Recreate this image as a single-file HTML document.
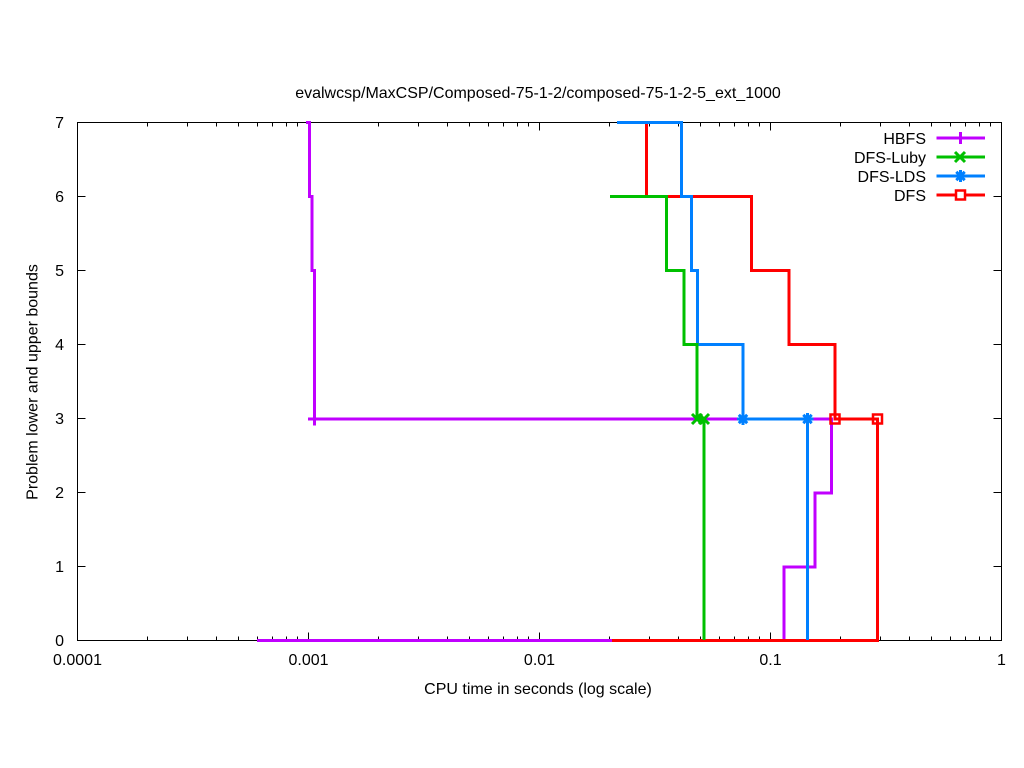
<!DOCTYPE html>
<html><head><meta charset="utf-8"><style>
html,body{margin:0;padding:0;background:#fff;}
svg{display:block;}
text{font-family:"Liberation Sans",Arial,sans-serif;font-size:16px;fill:#000;}
</style></head><body>
<svg width="1024" height="768" viewBox="0 0 1024 768" xmlns="http://www.w3.org/2000/svg">
<rect width="1024" height="768" fill="#fff"/>
<text x="538" y="98" text-anchor="middle">evalwcsp/MaxCSP/Composed-75-1-2/composed-75-1-2-5_ext_1000</text>
<g stroke="#000" stroke-width="1" fill="none">
<rect x="77.5" y="122.5" width="924" height="518"/>
<path d="M77.5,640.5h8M1001.5,640.5h-8M77.5,566.5h8M1001.5,566.5h-8M77.5,492.5h8M1001.5,492.5h-8M77.5,418.5h8M1001.5,418.5h-8M77.5,344.5h8M1001.5,344.5h-8M77.5,270.5h8M1001.5,270.5h-8M77.5,196.5h8M1001.5,196.5h-8M77.5,122.5h8M1001.5,122.5h-8"/>
<path d="M77.5,640.5v-8M77.5,122.5v8M308.5,640.5v-8M308.5,122.5v8M539.5,640.5v-8M539.5,122.5v8M770.5,640.5v-8M770.5,122.5v8M1001.5,640.5v-8M1001.5,122.5v8"/>
<path d="M147.5,640.5v-4M147.5,122.5v4M187.5,640.5v-4M187.5,122.5v4M216.5,640.5v-4M216.5,122.5v4M238.5,640.5v-4M238.5,122.5v4M257.5,640.5v-4M257.5,122.5v4M272.5,640.5v-4M272.5,122.5v4M286.5,640.5v-4M286.5,122.5v4M297.5,640.5v-4M297.5,122.5v4
M378.5,640.5v-4M378.5,122.5v4M418.5,640.5v-4M418.5,122.5v4M447.5,640.5v-4M447.5,122.5v4M469.5,640.5v-4M469.5,122.5v4M488.5,640.5v-4M488.5,122.5v4M503.5,640.5v-4M503.5,122.5v4M517.5,640.5v-4M517.5,122.5v4M528.5,640.5v-4M528.5,122.5v4
M609.5,640.5v-4M609.5,122.5v4M649.5,640.5v-4M649.5,122.5v4M678.5,640.5v-4M678.5,122.5v4M700.5,640.5v-4M700.5,122.5v4M719.5,640.5v-4M719.5,122.5v4M734.5,640.5v-4M734.5,122.5v4M748.5,640.5v-4M748.5,122.5v4M759.5,640.5v-4M759.5,122.5v4
M840.5,640.5v-4M840.5,122.5v4M880.5,640.5v-4M880.5,122.5v4M909.5,640.5v-4M909.5,122.5v4M931.5,640.5v-4M931.5,122.5v4M950.5,640.5v-4M950.5,122.5v4M965.5,640.5v-4M965.5,122.5v4M979.5,640.5v-4M979.5,122.5v4M990.5,640.5v-4M990.5,122.5v4"/>
</g>
<g text-anchor="end">
<text x="64" y="646">0</text>
<text x="64" y="572">1</text>
<text x="64" y="498">2</text>
<text x="64" y="424">3</text>
<text x="64" y="350">4</text>
<text x="64" y="276">5</text>
<text x="64" y="202">6</text>
<text x="64" y="128">7</text>
</g>
<g text-anchor="middle">
<text x="77.5" y="665">0.0001</text>
<text x="308.5" y="665">0.001</text>
<text x="539.5" y="665">0.01</text>
<text x="770.5" y="665">0.1</text>
<text x="1001.5" y="665">1</text>
<text x="538" y="694">CPU time in seconds (log scale)</text>
<text transform="translate(37.5,382) rotate(-90)">Problem lower and upper bounds</text>
</g>
<g fill="none" stroke-width="3" stroke-linejoin="miter" stroke-linecap="butt">
<!-- HBFS -->
<path stroke="#c000ff" d="M306,122.5H309.5V196.5H312V270.5H314.5V419"/>
<path stroke="#c000ff" d="M308,419H831.5V493H815V567H784V640.5H257"/>
<path stroke="#c000ff" d="M314.5,413v12.5M308.5,419h12"/>
<!-- DFS -->
<path stroke="#ff0000" d="M646.5,122.5V196.5H751.5V270.5H789V344.5H835V419H877.5V640.5H612"/>
<rect stroke="#ff0000" stroke-width="2.5" x="830.5" y="414.5" width="9" height="9"/>
<rect stroke="#ff0000" stroke-width="2.5" x="873" y="414.5" width="9" height="9"/>
<!-- DFS-LDS -->
<path stroke="#0080ff" d="M617,122.5H681.5V196.5H691.5V270.5H697.5V344.5H743V419H807.5V640"/>
<path stroke="#0080ff" d="M737,419h12M743,413v12M738.8,414.8l8.4,8.4M747.2,414.8l-8.4,8.4M801.5,419h12M807.5,413v12M803.3,414.8l8.4,8.4M811.7,414.8l-8.4,8.4"/>
<!-- DFS-Luby -->
<path stroke="#00c000" d="M610,196.5H666.5V270.5H684V344.5H697V419H704V640"/>
<path stroke="#00c000" d="M692,414l10,10M702,414l-10,10M699,414l10,10M709,414l-10,10"/>
</g>
<g text-anchor="end">
<text x="926" y="144">HBFS</text>
<text x="926" y="163">DFS-Luby</text>
<text x="926" y="182">DFS-LDS</text>
<text x="926" y="201">DFS</text>
</g>
<g fill="none" stroke-width="3">
<path stroke="#c000ff" d="M936.5,138h48.5M960.5,132v12"/>
<path stroke="#00c000" d="M936.5,157h48.5M955,152l10,10M965,152l-10,10"/>
<path stroke="#0080ff" d="M936.5,176h48.5M960.5,170v12M954.5,176h12M956.3,171.8l8.4,8.4M964.7,171.8l-8.4,8.4"/>
<path stroke="#ff0000" d="M936.5,195h48.5"/>
<rect stroke="#ff0000" stroke-width="2.5" x="956" y="190.5" width="9" height="9" fill="#fff"/>
</g>
</svg>
</body></html>
